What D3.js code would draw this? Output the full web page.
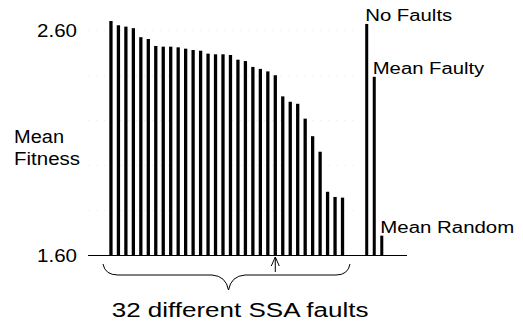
<!DOCTYPE html>
<html><head><meta charset="utf-8">
<script src="https://cdn.jsdelivr.net/npm/d3@7"></script>
<style>html,body{margin:0;padding:0;background:#fff;}svg{display:block;}text{font-family:"Liberation Sans",Arial,sans-serif;fill:#000;}</style>
</head><body>
<script>
// Data
const faults = d3.range(1, 33).map(d => "F" + d);
const faultFitness = [2.640, 2.621, 2.615, 2.608, 2.568, 2.560, 2.529, 2.526, 2.526, 2.523,
  2.517, 2.511, 2.508, 2.495, 2.492, 2.492, 2.489, 2.468, 2.462, 2.436,
  2.427, 2.416, 2.399, 2.305, 2.281, 2.272, 2.206, 2.128, 2.059, 1.881,
  1.858, 1.855];
const refLabels = ["No Faults", "Mean Faulty", "Mean Random"];
const refFitness = [2.627, 2.392, 1.686];
const yTickLabels = ["1.60", "2.60"];
const yTickValues = [1.60, 2.60];
const gridValues = [1.8, 2.0, 2.2, 2.4, 2.6];
const meanFaultyRank = 22; // index where the mean faulty value falls among sorted faults

const W = 523, H = 323;
const svg = d3.select("body").append("svg").attr("width", W).attr("height", H);
svg.append("rect").attr("width", W).attr("height", H).attr("fill", "#fff");

const y = d3.scaleLinear().domain([1.6, 2.6]).range([255, 30]);
const x = d3.scaleBand().domain(faults).range([105.57, 347.9]).paddingInner(0.56).paddingOuter(0.5);
const xr = d3.scaleBand().domain(refLabels).range([362.2, 386.3]).paddingInner(0.6).paddingOuter(0.4);

// very faint dotted gridlines
svg.append("g").selectAll("line").data(gridValues).join("line")
  .attr("x1", 88).attr("x2", 360)
  .attr("y1", d => Math.round(y(d)) + 0.5).attr("y2", d => Math.round(y(d)) + 0.5)
  .attr("stroke", "#ececec").attr("stroke-width", 1).attr("stroke-dasharray", "1,7");

// bars
svg.append("g").selectAll("rect").data(faultFitness).join("rect")
  .attr("x", (d, i) => x(faults[i])).attr("width", x.bandwidth())
  .attr("y", d => y(d)).attr("height", d => y(1.6) - y(d)).attr("fill", "#000");

svg.append("g").selectAll("rect").data(refFitness).join("rect")
  .attr("x", (d, i) => xr(refLabels[i])).attr("width", xr.bandwidth())
  .attr("y", d => y(d)).attr("height", d => y(1.6) - y(d)).attr("fill", "#000");

// baseline
svg.append("line").attr("x1", 88).attr("x2", 407)
  .attr("y1", y(1.6) + 0.5).attr("y2", y(1.6) + 0.5).attr("stroke", "#000").attr("stroke-width", 1);

// y labels
svg.append("g").selectAll("text").data(yTickValues).join("text")
  .attr("x", 77).attr("y", d => y(d) + 7).attr("text-anchor", "end")
  .attr("font-size", 19).attr("textLength", 40).attr("lengthAdjust", "spacingAndGlyphs")
  .text((d, i) => yTickLabels[i]);

svg.append("text").attr("x", 14).attr("y", 142.7).attr("font-size", 17.5)
  .attr("textLength", 50).attr("lengthAdjust", "spacingAndGlyphs").text("Mean");
svg.append("text").attr("x", 14).attr("y", 165).attr("font-size", 17.5)
  .attr("textLength", 66).attr("lengthAdjust", "spacingAndGlyphs").text("Fitness");

// reference bar labels
const refLabelWidths = [87, 111.5, 134];
svg.append("g").selectAll("text").data(refFitness).join("text")
  .attr("x", (d, i) => xr(refLabels[i]))
  .attr("y", d => y(d) - 3)
  .attr("font-size", 17.3)
  .attr("textLength", (d, i) => refLabelWidths[i]).attr("lengthAdjust", "spacingAndGlyphs")
  .text((d, i) => refLabels[i]);

// brace
svg.append("path")
  .attr("d", "M103,264 Q105,275 118,275 L212,275 Q226,276 228.5,290 Q231,276 245,275 L336,275 Q348,275 350,264")
  .attr("fill", "none").attr("stroke", "#000").attr("stroke-width", 1);

// arrow
const ax = x(faults[meanFaultyRank]) + x.bandwidth() / 2;
svg.append("path")
  .attr("d", `M${ax},272 L${ax},257 M${ax - 4},266 L${ax},257 L${ax + 4},266`)
  .attr("fill", "none").attr("stroke", "#000").attr("stroke-width", 1);

svg.append("text").attr("x", 111.7).attr("y", 317).attr("font-size", 19.5)
  .attr("textLength", 256.7).attr("lengthAdjust", "spacingAndGlyphs").text("32 different SSA faults");
</script>
</body></html>
